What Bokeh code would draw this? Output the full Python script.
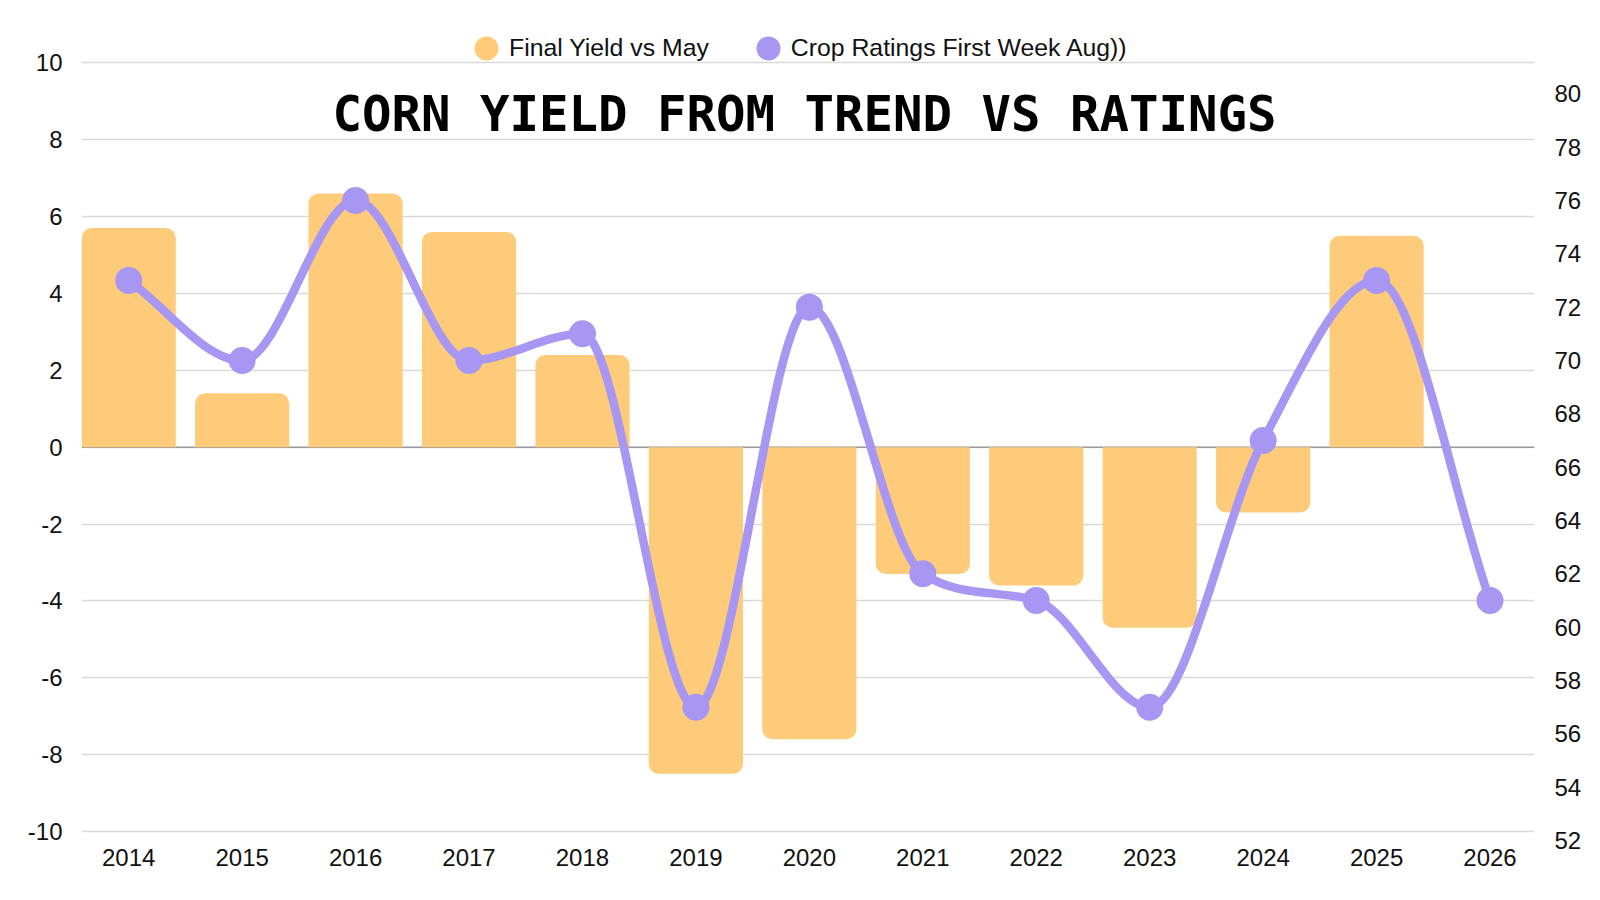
import math
from bokeh.plotting import figure
from bokeh.models import (ColumnDataSource, Range1d, LinearAxis, FixedTicker, Span,
                          Legend, LegendItem, Label, CDSView, BooleanFilter)
from bokeh.embed import file_html
from bokeh.resources import INLINE

# ---------------- data ----------------
years = [2014, 2015, 2016, 2017, 2018, 2019, 2020, 2021, 2022, 2023, 2024, 2025, 2026]
bar_years = [2014, 2015, 2016, 2017, 2018, 2019, 2020, 2021, 2022, 2023, 2024, 2025]
yield_vs_may = [5.7, 1.4, 6.6, 5.6, 2.4, -8.5, -7.6, -3.3, -3.6, -4.7, -1.7, 5.5]
crop_ratings = [73, 70, 76, 70, 71, 57, 72, 62, 61, 57, 67, 73, 61]
left_ticks = [-10, -8, -6, -4, -2, 0, 2, 4, 6, 8, 10]
right_ticks = [52, 54, 56, 58, 60, 62, 64, 66, 68, 70, 72, 74, 76, 78, 80]
series_names = ["Final Yield vs May", "Crop Ratings First Week Aug))"]
title_text = "CORN YIELD FROM TREND VS RATINGS"

ORANGE = "#FECB7B"
PURPLE = "#A796F2"
TEXT = "#111111"
FONT = "Liberation Sans"

p = figure(width=1584, height=880, output_backend="svg", toolbar_location=None,
           x_range=Range1d(2013.584, 2026.392), y_range=Range1d(-10.39, 11.621),
           min_border_left=81, min_border_right=48, min_border_top=0, min_border_bottom=34)
p.extra_y_ranges = {"right": Range1d(51.775, 83.498)}
p.outline_line_color = None
p.background_fill_color = "white"
p.border_fill_color = "white"

# grid
lt = FixedTicker(ticks=left_ticks)
p.yaxis.ticker = lt
p.ygrid.ticker = lt
p.ygrid.grid_line_color = "#d9d9d9"
p.ygrid.grid_line_width = 1.5
p.xgrid.grid_line_color = None

# zero line
p.add_layout(Span(location=0, dimension="width", line_color="#9a9a9a",
                  line_width=1.5, level="underlay"))

# bars
src = ColumnDataSource(dict(x=bar_years, top=yield_vs_may))
pos = CDSView(filter=BooleanFilter([v >= 0 for v in yield_vs_may]))
neg = CDSView(filter=BooleanFilter([v < 0 for v in yield_vs_may]))
p.vbar(x="x", top="top", bottom=0, width=0.83, source=src, view=pos,
       fill_color=ORANGE, line_color=None, border_radius=(10, 10, 0, 0))
p.vbar(x="x", top=0, bottom="top", width=0.83, source=src, view=neg,
       fill_color=ORANGE, line_color=None, border_radius=(0, 0, 10, 10))

# smooth monotone line for ratings (bezier segments through the data points)
def monotone_slopes(xs, ys):
    n = len(xs)
    h = [xs[i + 1] - xs[i] for i in range(n - 1)]
    d = [(ys[i + 1] - ys[i]) / h[i] for i in range(n - 1)]
    m = [0.0] * n
    m[0] = d[0]
    m[-1] = d[-1]
    for i in range(1, n - 1):
        m[i] = 0.0 if d[i - 1] * d[i] <= 0 else (d[i - 1] + d[i]) / 2
    for i in range(n - 1):
        if d[i] == 0:
            m[i] = m[i + 1] = 0.0
            continue
        a = m[i] / d[i]
        b = m[i + 1] / d[i]
        s = a * a + b * b
        if s > 9:
            t = 3 / math.sqrt(s)
            m[i] = t * a * d[i]
            m[i + 1] = t * b * d[i]
    return m

ms = monotone_slopes(years, crop_ratings)
x0, y0, x1, y1, cx0, cy0, cx1, cy1 = [], [], [], [], [], [], [], []
for i in range(len(years) - 1):
    h = years[i + 1] - years[i]
    x0.append(years[i]); y0.append(crop_ratings[i])
    x1.append(years[i + 1]); y1.append(crop_ratings[i + 1])
    cx0.append(years[i] + h / 3); cy0.append(crop_ratings[i] + ms[i] * h / 3)
    cx1.append(years[i + 1] - h / 3); cy1.append(crop_ratings[i + 1] - ms[i + 1] * h / 3)
bz = ColumnDataSource(dict(x0=x0, y0=y0, x1=x1, y1=y1, cx0=cx0, cy0=cy0, cx1=cx1, cy1=cy1))
p.bezier(x0="x0", y0="y0", x1="x1", y1="y1", cx0="cx0", cy0="cy0", cx1="cx1", cy1="cy1",
         source=bz, y_range_name="right", line_color=PURPLE, line_width=8.5, line_cap="round")
p.scatter(years, crop_ratings, y_range_name="right", size=27,
          fill_color=PURPLE, line_color=None)

# legend proxy glyphs (not drawn in the plot: NaN position), circles of 24px in the legend
nan = float("nan")
leg_bar = p.ellipse(x=[nan], y=[nan], width=24, height=24, width_units="screen",
                    height_units="screen", fill_color=ORANGE, line_color=None)
leg_line = p.ellipse(x=[nan], y=[nan], width=24, height=24, width_units="screen",
                     height_units="screen", fill_color=PURPLE, line_color=None)

# axes
p.xaxis.ticker = FixedTicker(ticks=years)
for ax in [p.xaxis[0], p.yaxis[0]]:
    ax.axis_line_color = None
    ax.major_tick_line_color = None
    ax.minor_tick_line_color = None
    ax.major_tick_out = 0
    ax.minor_tick_out = 0
    ax.major_label_text_font = FONT
    ax.major_label_text_font_size = "24px"
    ax.major_label_text_color = TEXT
p.yaxis.major_label_overrides = {t: str(t) for t in left_ticks}
p.xaxis.major_label_standoff = 2
p.yaxis.major_label_standoff = 19

ra = LinearAxis(y_range_name="right", ticker=FixedTicker(ticks=right_ticks))
ra.axis_line_color = None
ra.major_tick_line_color = None
ra.minor_tick_line_color = None
ra.major_tick_out = 0
ra.minor_tick_out = 0
ra.major_label_text_font = FONT
ra.major_label_text_font_size = "24px"
ra.major_label_text_color = TEXT
ra.major_label_standoff = 20
p.add_layout(ra, "right")

# legend
legend = Legend(items=[LegendItem(label=series_names[0], renderers=[leg_bar]),
                       LegendItem(label=series_names[1], renderers=[leg_line])],
                orientation="horizontal", location=(390, 783),
                glyph_width=30, glyph_height=30, label_standoff=8, spacing=44,
                padding=0, margin=0, border_line_color=None, background_fill_alpha=0,
                label_text_font=FONT, label_text_font_size="24.8px", label_text_color=TEXT)
p.add_layout(legend, "center")

# title inside plot area
p.add_layout(Label(x=723, y=732, x_units="screen", y_units="screen", text=title_text,
                   text_font="DejaVu Sans Mono", text_font_style="bold",
                   text_font_size="49px", text_color="#000000", text_align="center",
                   text_baseline="alphabetic"))

open("out.html", "w").write(file_html(p, INLINE))
